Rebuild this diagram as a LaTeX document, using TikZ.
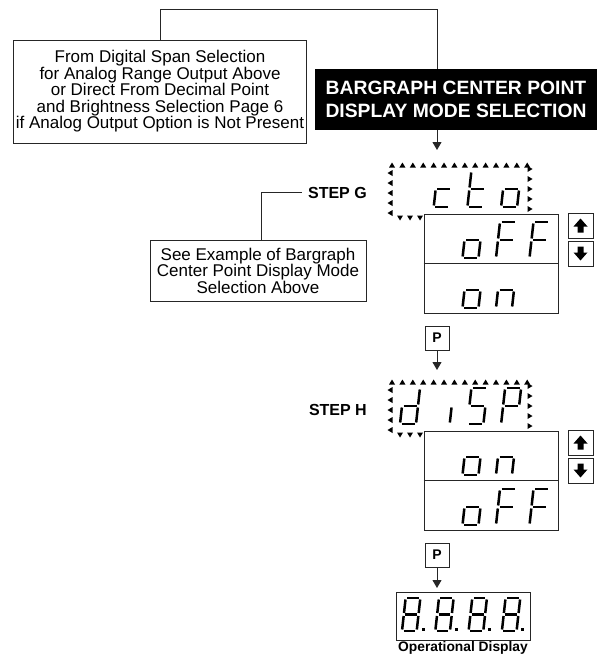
\documentclass[tikz,border=0pt]{standalone}
\usepackage{fontspec}
\setmainfont{Liberation Sans}
\usepackage{tikz}
\usetikzlibrary{positioning,calc,arrows.meta}

\tikzset{
  wire/.style={black!85, line width=1pt},
  flow/.style={wire, -{Triangle[length=8pt,width=9pt]}},
  textbox/.style={draw=black!85, line width=1pt, inner sep=0pt, align=center, font=\fontsize{17}{16.5}\selectfont},
  titlebox/.style={fill=black, text=white, inner sep=0pt, align=center, minimum width=282pt, minimum height=61pt, font=\bfseries\fontsize{19.3}{23}\selectfont},
  steplabel/.style={inner sep=0pt, font=\bfseries\fontsize{16}{16}\selectfont},
  pbox/.style={draw=black!85, line width=1pt, minimum size=24pt, inner sep=0pt, font=\bfseries\fontsize{14}{14}\selectfont},
  keybox/.style={draw=black!85, line width=1pt, minimum size=25pt, inner sep=0pt},
  dispbox/.style={draw=black!85, line width=1pt, inner sep=0pt, minimum width=134pt},
  seg/.style={line width=2.5pt, shorten <=1.5pt, shorten >=1.5pt},
}

\newcommand{\glyphc}{C/D,C/E,E/F}
\newcommand{\glypht}{A/C,C/E,C/D,E/F}
\newcommand{\glypho}{C/D,D/F,E/F,C/E}
\newcommand{\glyphF}{A/B,A/C,C/D,C/E}
\newcommand{\glyphn}{C/E,C/D,D/F}
\newcommand{\glyphd}{B/D,D/F,E/F,C/E,C/D}
\newcommand{\glyphi}{D/F}
\newcommand{\glyphS}{A/B,A/C,C/D,D/F,E/F}
\newcommand{\glyphP}{A/B,B/D,A/C,C/D,C/E}
\newcommand{\glypheight}{A/B,B/D,D/F,E/F,C/E,A/C,C/D}

\newcommand{\segdigit}[4][1]{%
  \begin{scope}[shift={(#2,#3)}, scale=#1]
    \coordinate (sA) at (4,-36);
    \coordinate (sB) at (20,-36);
    \coordinate (sC) at (2,-18);
    \coordinate (sD) at (18,-18);
    \coordinate (sE) at (0,0);
    \coordinate (sF) at (16,0);
    \foreach \u/\v in #4
      \draw[seg] (s\u) -- (s\v);
  \end{scope}}

\newcommand{\blinkframe}[1]{%
  \foreach \k in {0,...,13}
    \fill (392+10.4*\k,#1) +(-3,2.5) -- +(3,2.5) -- +(0,-2.5) -- cycle;
  \foreach \k in {0,...,4} {
    \fill (390,#1+8+10*\k) +(2.5,-3) -- +(2.5,3) -- +(-2.5,0) -- cycle;
    \fill (530,#1+4+10*\k) +(-2.5,-3) -- +(-2.5,3) -- +(2.5,0) -- cycle;}
  \foreach \k in {0,1,2}
    \fill (400+10*\k,#1+53) +(-3,-2.5) -- +(3,-2.5) -- +(0,2.5) -- cycle;}

\newcommand{\keyarrow}[2]{%
  \fill[shift={(#1.center)}, yscale=#2] (0,-7) -- (7,1) -- (3,1) -- (3,7) -- (-3,7) -- (-3,1) -- (-7,1) -- cycle;}

\begin{document}
\begin{tikzpicture}[x=1pt, y=-1pt]
    \useasboundingbox (0,0) rectangle (604,656);

    \node[textbox, minimum width=293pt, minimum height=103pt] (from) at (160,91.5)
      {From Digital Span Selection\\for Analog Range Output Above\\or Direct From Decimal Point\\and Brightness Selection Page 6\\if Analog Output Option is Not Present};
    \coordinate (inG) at (437,150);
    \draw[flow] (from.north) -- ++(0,-30) -| (inG);
    \node[titlebox] (title) at (456,99.5) {BARGRAPH CENTER POINT\\DISPLAY MODE SELECTION};

    \node[steplabel, anchor=east] (stepG) at (367,192.5) {STEP G};
    \node[textbox, minimum width=216pt, minimum height=61pt] (seeG) at (258,270.5)
      {See Example of Bargraph\\Center Point Display Mode\\Selection Above};
    \draw[wire] ([xshift=3pt]seeG.north) |- ([xshift=-6pt]stepG.west);

    \blinkframe{165}
    \segdigit{433.7}{207}{\glyphc}
    \segdigit{467.4}{207}{\glypht}
    \segdigit{501.1}{207}{\glypho}
    \node[dispbox, minimum height=99pt] (boxG) at (491,263.5) {};
    \draw[wire] (boxG.west) -- (boxG.east);
    \segdigit{462.5}{258}{\glypho}
    \segdigit{496}{258}{\glyphF}
    \segdigit{529.5}{258}{\glyphF}
    \segdigit{462.5}{308}{\glypho}
    \segdigit{496}{308}{\glyphn}
    \node[keybox] (upG) at (580.5,225.5) {};
    \node[keybox, below=2pt of upG] (downG) {};
    \keyarrow{upG}{1}
    \keyarrow{downG}{-1}
    \node[pbox] (pG) at (437,338) {P};
    \coordinate (inH) at (437,370);
    \draw[flow] (pG) -- (inH);

    \begin{scope}[shift={(0,217)}]
      \node[steplabel, anchor=east] (stepH) at (367,192.5) {STEP H};
      \blinkframe{165}
      \segdigit{400}{207}{\glyphd}
      \segdigit{433.7}{207}{\glyphi}
      \segdigit{467.4}{207}{\glyphS}
      \segdigit{501.1}{207}{\glyphP}
      \node[dispbox, minimum height=99pt] (boxH) at (491,263.5) {};
      \draw[wire] (boxH.west) -- (boxH.east);
      \segdigit{462.5}{258}{\glypho}
      \segdigit{496}{258}{\glyphn}
      \segdigit{462.5}{308}{\glypho}
      \segdigit{496}{308}{\glyphF}
      \segdigit{529.5}{308}{\glyphF}
      \node[keybox] (upH) at (580.5,225.5) {};
      \node[keybox, below=2pt of upH] (downH) {};
      \keyarrow{upH}{1}
      \keyarrow{downH}{-1}
      \node[pbox] (pH) at (437,338) {P};
      \coordinate (inOp) at (437,371);
      \draw[flow] (pH) -- (inOp);
    \end{scope}

    \node[dispbox, minimum height=48pt] (opdisp) at (463,616) {};
    \foreach \k in {0,...,3} {
      \segdigit[0.917]{402+33.3*\k}{631}{\glypheight}
      \fill (421.5+33.3*\k,628) rectangle ++(3,3);}
    \node[steplabel, font=\bfseries\fontsize{13.8}{14}\selectfont, below=1pt of opdisp] (optext) {Operational Display};
\end{tikzpicture}
\end{document}
